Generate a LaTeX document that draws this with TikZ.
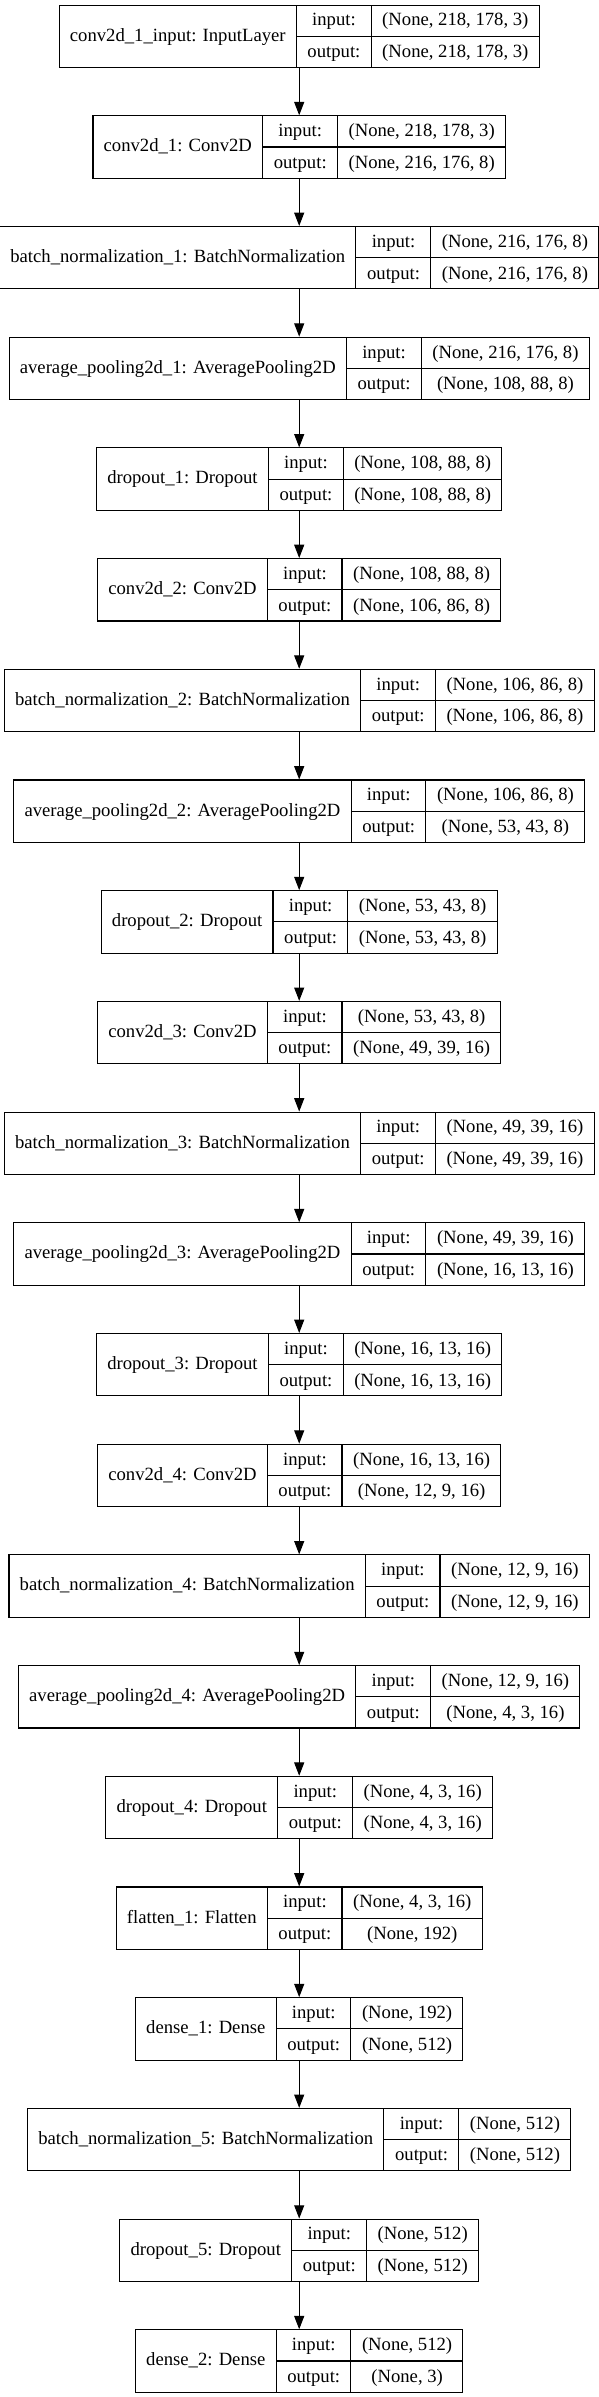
\documentclass[tikz,border=0pt]{standalone}
\usepackage{fontspec}
\setmainfont{Liberation Serif}
\usetikzlibrary{arrows.meta}

\setlength{\arrayrulewidth}{0.8pt}
\setlength{\tabcolsep}{8pt}
\newcommand{\rowstrut}{\rule[-7.4pt]{0pt}{23pt}}
% one record: label | input:/output: | shapes
\newcommand{\kerasrec}[3]{%
  \begin{tabular}{c|@{}c@{}|@{}c@{}}
    #1 &
    \begin{tabular}{c}\rowstrut input:\\ \hline \rowstrut output:\end{tabular} &
    \begin{tabular}{c}\rowstrut #2\\ \hline \rowstrut #3\end{tabular}
  \end{tabular}}

\begin{document}
\begin{tikzpicture}[x=0.75pt, y=-0.75pt,
    kbox/.style={draw, line width=0.8pt, inner sep=0pt, font=\fontsize{14}{17}\selectfont},
    arr/.style={-{Triangle[length=10pt,width=7.5pt]}, line width=0.8pt}]
    \useasboundingbox (0,0) rectangle (599,2397);

    % Block 1
    \node[kbox] (inp) at (299.2,36.3) {\kerasrec{conv2d\_1\_input: InputLayer}{(None, 218, 178, 3)}{(None, 218, 178, 3)}};
    \node[kbox] (conv1) at (299.2,147.0) {\kerasrec{conv2d\_1: Conv2D}{(None, 218, 178, 3)}{(None, 216, 176, 8)}};
    \node[kbox] (bn1) at (299.2,257.7) {\kerasrec{batch\_normalization\_1: BatchNormalization}{(None, 216, 176, 8)}{(None, 216, 176, 8)}};
    \node[kbox] (pool1) at (299.2,368.4) {\kerasrec{average\_pooling2d\_1: AveragePooling2D}{(None, 216, 176, 8)}{(None, 108, 88, 8)}};
    \node[kbox] (drop1) at (299.2,479.1) {\kerasrec{dropout\_1: Dropout}{(None, 108, 88, 8)}{(None, 108, 88, 8)}};

    % Block 2
    \node[kbox] (conv2) at (299.2,589.8) {\kerasrec{conv2d\_2: Conv2D}{(None, 108, 88, 8)}{(None, 106, 86, 8)}};
    \node[kbox] (bn2) at (299.2,700.5) {\kerasrec{batch\_normalization\_2: BatchNormalization}{(None, 106, 86, 8)}{(None, 106, 86, 8)}};
    \node[kbox] (pool2) at (299.2,811.2) {\kerasrec{average\_pooling2d\_2: AveragePooling2D}{(None, 106, 86, 8)}{(None, 53, 43, 8)}};
    \node[kbox] (drop2) at (299.2,921.9) {\kerasrec{dropout\_2: Dropout}{(None, 53, 43, 8)}{(None, 53, 43, 8)}};

    % Block 3
    \node[kbox] (conv3) at (299.2,1032.6) {\kerasrec{conv2d\_3: Conv2D}{(None, 53, 43, 8)}{(None, 49, 39, 16)}};
    \node[kbox] (bn3) at (299.2,1143.3) {\kerasrec{batch\_normalization\_3: BatchNormalization}{(None, 49, 39, 16)}{(None, 49, 39, 16)}};
    \node[kbox] (pool3) at (299.2,1254.0) {\kerasrec{average\_pooling2d\_3: AveragePooling2D}{(None, 49, 39, 16)}{(None, 16, 13, 16)}};
    \node[kbox] (drop3) at (299.2,1364.7) {\kerasrec{dropout\_3: Dropout}{(None, 16, 13, 16)}{(None, 16, 13, 16)}};

    % Block 4
    \node[kbox] (conv4) at (299.2,1475.4) {\kerasrec{conv2d\_4: Conv2D}{(None, 16, 13, 16)}{(None, 12, 9, 16)}};
    \node[kbox] (bn4) at (299.2,1586.1) {\kerasrec{batch\_normalization\_4: BatchNormalization}{(None, 12, 9, 16)}{(None, 12, 9, 16)}};
    \node[kbox] (pool4) at (299.2,1696.8) {\kerasrec{average\_pooling2d\_4: AveragePooling2D}{(None, 12, 9, 16)}{(None, 4, 3, 16)}};
    \node[kbox] (drop4) at (299.2,1807.5) {\kerasrec{dropout\_4: Dropout}{(None, 4, 3, 16)}{(None, 4, 3, 16)}};

    % Classifier
    \node[kbox] (flat1) at (299.2,1918.2) {\kerasrec{flatten\_1: Flatten}{(None, 4, 3, 16)}{(None, 192)}};
    \node[kbox] (dense1) at (299.2,2028.9) {\kerasrec{dense\_1: Dense}{(None, 192)}{(None, 512)}};
    \node[kbox] (bn5) at (299.2,2139.6) {\kerasrec{batch\_normalization\_5: BatchNormalization}{(None, 512)}{(None, 512)}};
    \node[kbox] (drop5) at (299.2,2250.3) {\kerasrec{dropout\_5: Dropout}{(None, 512)}{(None, 512)}};
    \node[kbox] (dense2) at (299.2,2361.0) {\kerasrec{dense\_2: Dense}{(None, 512)}{(None, 3)}};

    % Connections
    \draw[arr] (inp) -- (conv1);
    \draw[arr] (conv1) -- (bn1);
    \draw[arr] (bn1) -- (pool1);
    \draw[arr] (pool1) -- (drop1);
    \draw[arr] (drop1) -- (conv2);
    \draw[arr] (conv2) -- (bn2);
    \draw[arr] (bn2) -- (pool2);
    \draw[arr] (pool2) -- (drop2);
    \draw[arr] (drop2) -- (conv3);
    \draw[arr] (conv3) -- (bn3);
    \draw[arr] (bn3) -- (pool3);
    \draw[arr] (pool3) -- (drop3);
    \draw[arr] (drop3) -- (conv4);
    \draw[arr] (conv4) -- (bn4);
    \draw[arr] (bn4) -- (pool4);
    \draw[arr] (pool4) -- (drop4);
    \draw[arr] (drop4) -- (flat1);
    \draw[arr] (flat1) -- (dense1);
    \draw[arr] (dense1) -- (bn5);
    \draw[arr] (bn5) -- (drop5);
    \draw[arr] (drop5) -- (dense2);
\end{tikzpicture}
\end{document}
